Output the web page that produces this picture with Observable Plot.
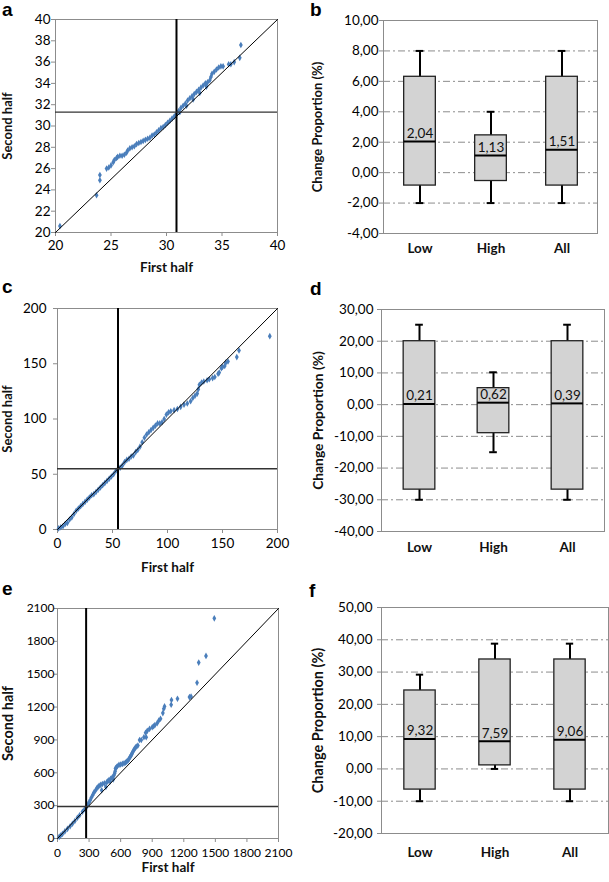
<!DOCTYPE html>
<html><head><meta charset="utf-8">
<script src="https://cdn.jsdelivr.net/npm/d3@7"></script>
<script src="https://cdn.jsdelivr.net/npm/@observablehq/plot@0.6"></script>
<style>
html,body{margin:0;padding:0;background:#fff;}
#root{position:relative;width:609px;height:882px;overflow:hidden;font-family:Lato,"Open Sans",sans-serif;}
#root svg{position:absolute;max-width:none;}
.letter{position:absolute;font-family:"Liberation Sans",Arial,sans-serif;font-weight:bold;font-size:19px;line-height:1;color:#000;z-index:5;}
</style></head><body><div id="root"></div>
<script>
// ---------- data ----------
const categories = ["Low", "High", "All"];

// panel a : quantiles (first half, second half)
const aDomain = [20, 40];
const aTicksX = [20, 25, 30, 35, 40];
const aTicksY = [20, 22, 24, 26, 28, 30, 32, 34, 36, 38, 40];
const aMedian = [30.9, 31.3];
const aPoints = [[20.4,20.6],[23.7,23.5],[24.0,24.9],[24.0,25.4],[24.6,26.0],[24.8,26.1],[25.0,26.3],[25.2,26.6],[25.3,26.8],[25.5,27.0],[25.6,27.1],[25.8,27.2],[26.0,27.2],[26.2,27.3],[26.4,27.5],[26.5,27.7],[26.7,27.9],[26.9,28.0],[27.1,28.1],[27.3,28.3],[27.5,28.4],[27.7,28.5],[27.9,28.6],[28.1,28.7],[28.3,28.8],[28.5,28.9],[28.7,29.1],[28.9,29.2],[29.1,29.4],[29.3,29.6],[29.5,29.8],[29.7,29.9],[29.9,30.1],[30.1,30.3],[30.3,30.5],[30.5,30.7],[30.7,30.9],[30.9,31.1],[31.1,31.4],[31.3,31.7],[31.5,31.9],[31.7,32.1],[31.9,32.4],[32.1,32.6],[32.3,32.8],[32.5,33.0],[32.7,33.2],[32.9,33.4],[33.1,33.6],[33.3,33.8],[33.5,34.0],[33.7,34.1],[33.9,34.3],[34.0,34.6],[34.1,34.9],[34.3,35.1],[34.5,35.3],[34.7,35.5],[34.9,35.6],[35.1,35.6],[35.6,35.8],[35.8,35.8],[36.1,36.0],[36.6,36.4],[36.7,37.6],[31.2,31.3],[31.8,31.9],[32.4,32.5],[33.0,33.1],[33.6,33.7]];

// panel c
const cDomain = [0, 200];
const cTicks = [0, 50, 100, 150, 200];
const cMedian = [55, 55];
const cPoints = [[1,1],[3,2],[5,3],[7,5],[9,6],[11,9],[13,11],[15,14],[17,17],[19,19],[21,21],[23,23],[25,25],[27,27],[29,29],[31,31],[33,32],[35,34],[37,36],[39,38],[41,40],[43,42],[45,44],[47,46],[49,48],[51,50],[53,53],[55,55],[57,56],[59,58],[61,61],[63,63],[65,64],[67,66],[69,67],[71,70],[73,72],[75,75],[77,79],[79,83],[81,86],[83,88],[85,90],[87,92],[89,94],[91,96],[93,96],[95,97],[97,100],[99,104],[101,106],[103,107],[106,108],[109,109],[112,111],[115,113],[118,114],[121,116],[123,119],[125,121],[127,123],[128,127],[129,131],[131,133],[133,134],[136,135],[138,136],[141,137],[143,138],[146,141],[147,142],[149,146],[150,147],[152,148],[153,151],[155,152],[163,156],[165,162],[193,175]];

// panel e
const eDomain = [0, 2100];
const eTicks = [0, 300, 600, 900, 1200, 1500, 1800, 2100];
const eMedian = [272, 292];
const ePoints = [[16,15],[30,28],[47,42],[70,65],[95,88],[120,112],[142,135],[165,160],[189,190],[210,212],[237,244],[258,268],[278,290],[290,310],[300,330],[312,352],[322,375],[335,398],[347,421],[361,438],[373,458],[385,470],[395,482],[410,490],[426,498],[445,505],[467,513],[478,522],[489,534],[505,545],[521,559],[535,575],[543,595],[548,615],[551,640],[560,650],[568,659],[584,672],[600,676],[616,681],[632,686],[647,693],[658,702],[669,711],[679,726],[688,742],[696,754],[704,766],[710,780],[717,794],[726,809],[734,820],[742,833],[753,840],[764,849],[780,900],[796,900],[821,925],[843,925],[837,965],[853,983],[875,1001],[900,1016],[912,1025],[925,1035],[947,1053],[963,1078],[979,1093],[1001,1145],[1010,1184],[1017,1206],[1080,1221],[1083,1264],[1140,1276],[1254,1291],[1269,1297],[1326,1422],[1342,1606],[1411,1667],[1490,2010],[420,440],[460,470],[500,520],[530,540]];

// panel b : box plots
const bTicks = [-4, -2, 0, 2, 4, 6, 8, 10];
const bMin = [-2, -2, -2];
const bQ1 = [-0.85, -0.55, -0.85];
const bMedian = [2.04, 1.13, 1.51];
const bMedianLine = [2.04, 1.13, 1.51];
const bQ3 = [6.3, 2.45, 6.3];
const bMax = [8, 4, 8];

// panel d
const dTicks = [-40, -30, -20, -10, 0, 10, 20, 30];
const dMin = [-30, -15, -30];
const dQ1 = [-26.8, -9, -26.8];
const dMedian = [0.21, 0.62, 0.39];
const dMedianLine = [0.21, 0.62, 0.39];
const dQ3 = [20, 5.2, 20];
const dMax = [25.2, 10.2, 25.2];

// panel f
const fTicks = [-20, -10, 0, 10, 20, 30, 40, 50];
const fMin = [-10, 0, -10];
const fQ1 = [-6.4, 1.1, -6.4];
const fMedian = [9.32, 7.59, 9.06];
const fMedianLine = [9.25, 8.56, 9.07];
const fQ3 = [24.3, 33.9, 33.9];
const fMax = [29.2, 38.8, 38.8];

// ---------- drawing ----------
const FONT = 'Lato, "Open Sans", sans-serif';
const BLUE = "#4a7ebb";
const GRAY = "#8c8c8c";
const comma = d => d.toFixed(2).replace(".", ",");
const plain = d => String(d);
const root = document.getElementById("root");

function grayTicks(svg) {
  svg.querySelectorAll('g[aria-label="x-axis tick"], g[aria-label="y-axis tick"]').forEach(g => g.setAttribute("stroke", GRAY));
  svg.querySelectorAll('g[aria-label="x-axis"] .tick line, g[aria-label="y-axis"] .tick line').forEach(l => l.setAttribute("stroke", GRAY));
}

function place(svg, left, top) {
  svg.style.left = left + "px";
  svg.style.top = top + "px";
  svg.style.background = "transparent";
  grayTicks(svg);
  root.appendChild(svg);
}

function scatter(c) {
  const diag = [{x: c.domain[0], y: c.domain[0]}, {x: c.domain[1], y: c.domain[1]}];
  const svg = Plot.plot({
    width: c.width, height: c.height,
    marginLeft: c.ml, marginRight: c.mr, marginTop: c.mt, marginBottom: c.mb,
    style: {fontFamily: FONT, fontSize: c.font + "px", color: "#000", background: "transparent"},
    x: {domain: c.domain, ticks: c.xTicks, tickSize: 4, tickPadding: c.xPad, tickFormat: plain, label: null},
    y: {domain: c.domain, ticks: c.yTicks, tickSize: c.yTickSize, tickPadding: c.yPad, tickFormat: plain, label: null},
    marks: [
      Plot.frame({stroke: GRAY}),
      Plot.dot(c.points, {x: d => d[0], y: d => d[1], symbol: "diamond", r: 2, fill: BLUE}),
      Plot.line(diag, {x: "x", y: "y", stroke: "#000", strokeWidth: 1}),
      Plot.ruleX([c.median[0]], {stroke: "#000", strokeWidth: 2}),
      Plot.ruleY([c.median[1]], {stroke: "#333", strokeWidth: 1.4}),
      Plot.text(["First half"], {text: d => d, frameAnchor: "bottom", lineAnchor: "middle", textAnchor: "middle", dy: c.xLabelDy, fontWeight: "bold", fontSize: 13.5, fill: "#111"}),
      Plot.text(["Second half"], {text: d => d, frameAnchor: "left", lineAnchor: "middle", textAnchor: "middle", dx: c.yLabelDx, rotate: -90, fontWeight: "bold", fontSize: c.yLabelSize, fill: "#111"})
    ]
  });
  place(svg, c.left, c.top);
}

function box(c) {
  const rows = categories.map((cat, i) => ({cat, min: c.min[i], q1: c.q1[i], med: c.medLine[i], label: comma(c.med[i]), q3: c.q3[i], max: c.max[i]}));
  const grid = c.ticks.slice(1, -1);
  const bw = (c.width - c.ml - c.mr) / categories.length;
  const boxInset = (bw - 32) / 2, capInset = (bw - 8) / 2;
  const svg = Plot.plot({
    width: c.width, height: c.height,
    marginLeft: c.ml, marginRight: c.mr, marginTop: c.mt, marginBottom: c.mb,
    style: {fontFamily: FONT, fontSize: "13.5px", color: "#000", background: "transparent"},
    x: {domain: categories, padding: 0, axis: null},
    y: {domain: [c.ticks[0], c.ticks[c.ticks.length - 1]], ticks: c.ticks, tickSize: 4, tickPadding: c.yPad, tickFormat: comma, label: null},
    marks: [
      Plot.ruleY(grid, {stroke: GRAY, strokeDasharray: "7,3,2,3", strokeWidth: 1}),
      Plot.frame({stroke: GRAY}),
      Plot.ruleX(rows, {x: "cat", y1: "min", y2: "max", stroke: "#000", strokeWidth: 2}),
      Plot.tickY(rows, {x: "cat", y: "max", stroke: "#000", strokeWidth: 2, insetLeft: capInset, insetRight: capInset}),
      Plot.tickY(rows, {x: "cat", y: "min", stroke: "#000", strokeWidth: 2, insetLeft: capInset, insetRight: capInset}),
      Plot.barY(rows, {x: "cat", y1: "q1", y2: "q3", fill: "#d3d3d3", stroke: "#222", strokeWidth: 1.3, insetLeft: boxInset, insetRight: boxInset}),
      Plot.tickY(rows, {x: "cat", y: "med", stroke: "#000", strokeWidth: 2, insetLeft: boxInset, insetRight: boxInset}),
      Plot.text(rows, {x: "cat", y: "med", text: "label", dy: -8, lineAnchor: "middle", fontSize: 13.5, fill: "#111"}),
      Plot.text(rows, {x: "cat", text: "cat", frameAnchor: "bottom", lineAnchor: "middle", dy: c.catDy, fontWeight: "bold", fontSize: 13.5, fill: "#111"}),
      Plot.text(["Change Proportion (%)"], {text: d => d, frameAnchor: "left", lineAnchor: "middle", textAnchor: "middle", dx: c.yLabelDx, rotate: -90, fontWeight: "bold", fontSize: c.yLabelSize, fill: "#111"})
    ]
  });
  place(svg, c.left, c.top);
}

scatter({left: 0, top: 0, width: 300, height: 280, ml: 55, mr: 23, mt: 19, mb: 48,
  domain: aDomain, xTicks: aTicksX, yTicks: aTicksY, median: aMedian, points: aPoints,
  font: 13.5, xPad: 4, yTickSize: 4, yPad: 1, xLabelDy: 35, yLabelDx: -47.5, yLabelSize: 13});
scatter({left: 0, top: 290, width: 300, height: 290, ml: 57, mr: 23, mt: 18, mb: 51,
  domain: cDomain, xTicks: cTicks, yTicks: cTicks, median: cMedian, points: cPoints,
  font: 13.5, xPad: 5, yTickSize: 4, yPad: 7, xLabelDy: 38, yLabelDx: -49.5, yLabelSize: 13});
scatter({left: 0, top: 580, width: 300, height: 302, ml: 57, mr: 22, mt: 28, mb: 44,
  domain: eDomain, xTicks: eTicks, yTicks: eTicks, median: eMedian, points: ePoints,
  font: 12, xPad: 6, yTickSize: 3, yPad: 0, xLabelDy: 29, yLabelDx: -49.5, yLabelSize: 14.5});

box({left: 300, top: 0, width: 309, height: 280, ml: 83, mr: 12, mt: 20, mb: 47,
  ticks: bTicks, min: bMin, q1: bQ1, med: bMedian, medLine: bMedianLine, q3: bQ3, max: bMax,
  yPad: 1, catDy: 15, yLabelDx: -66, yLabelSize: 13});
box({left: 300, top: 290, width: 309, height: 290, ml: 81, mr: 5, mt: 19, mb: 49,
  ticks: dTicks, min: dMin, q1: dQ1, med: dMedian, medLine: dMedianLine, q3: dQ3, max: dMax,
  yPad: 4, catDy: 16, yLabelDx: -63, yLabelSize: 13.8});
box({left: 300, top: 580, width: 309, height: 302, ml: 81, mr: 1, mt: 27, mb: 49,
  ticks: fTicks, min: fMin, q1: fQ1, med: fMedian, medLine: fMedianLine, q3: fQ3, max: fMax,
  yPad: 5, catDy: 19, yLabelDx: -63, yLabelSize: 14.5});

// panel letters (left, baseline)
const letters = [["a", 2, 16], ["b", 310, 16], ["c", 2, 293], ["d", 310, 295], ["e", 2, 595], ["f", 309, 597]];
letters.forEach(([t, x, base]) => {
  const s = document.createElement("div");
  s.className = "letter";
  s.textContent = t;
  s.style.left = x + "px";
  s.style.top = Math.max(0, base - 16.1) + "px";
  root.appendChild(s);
});
</script>
</body></html>
